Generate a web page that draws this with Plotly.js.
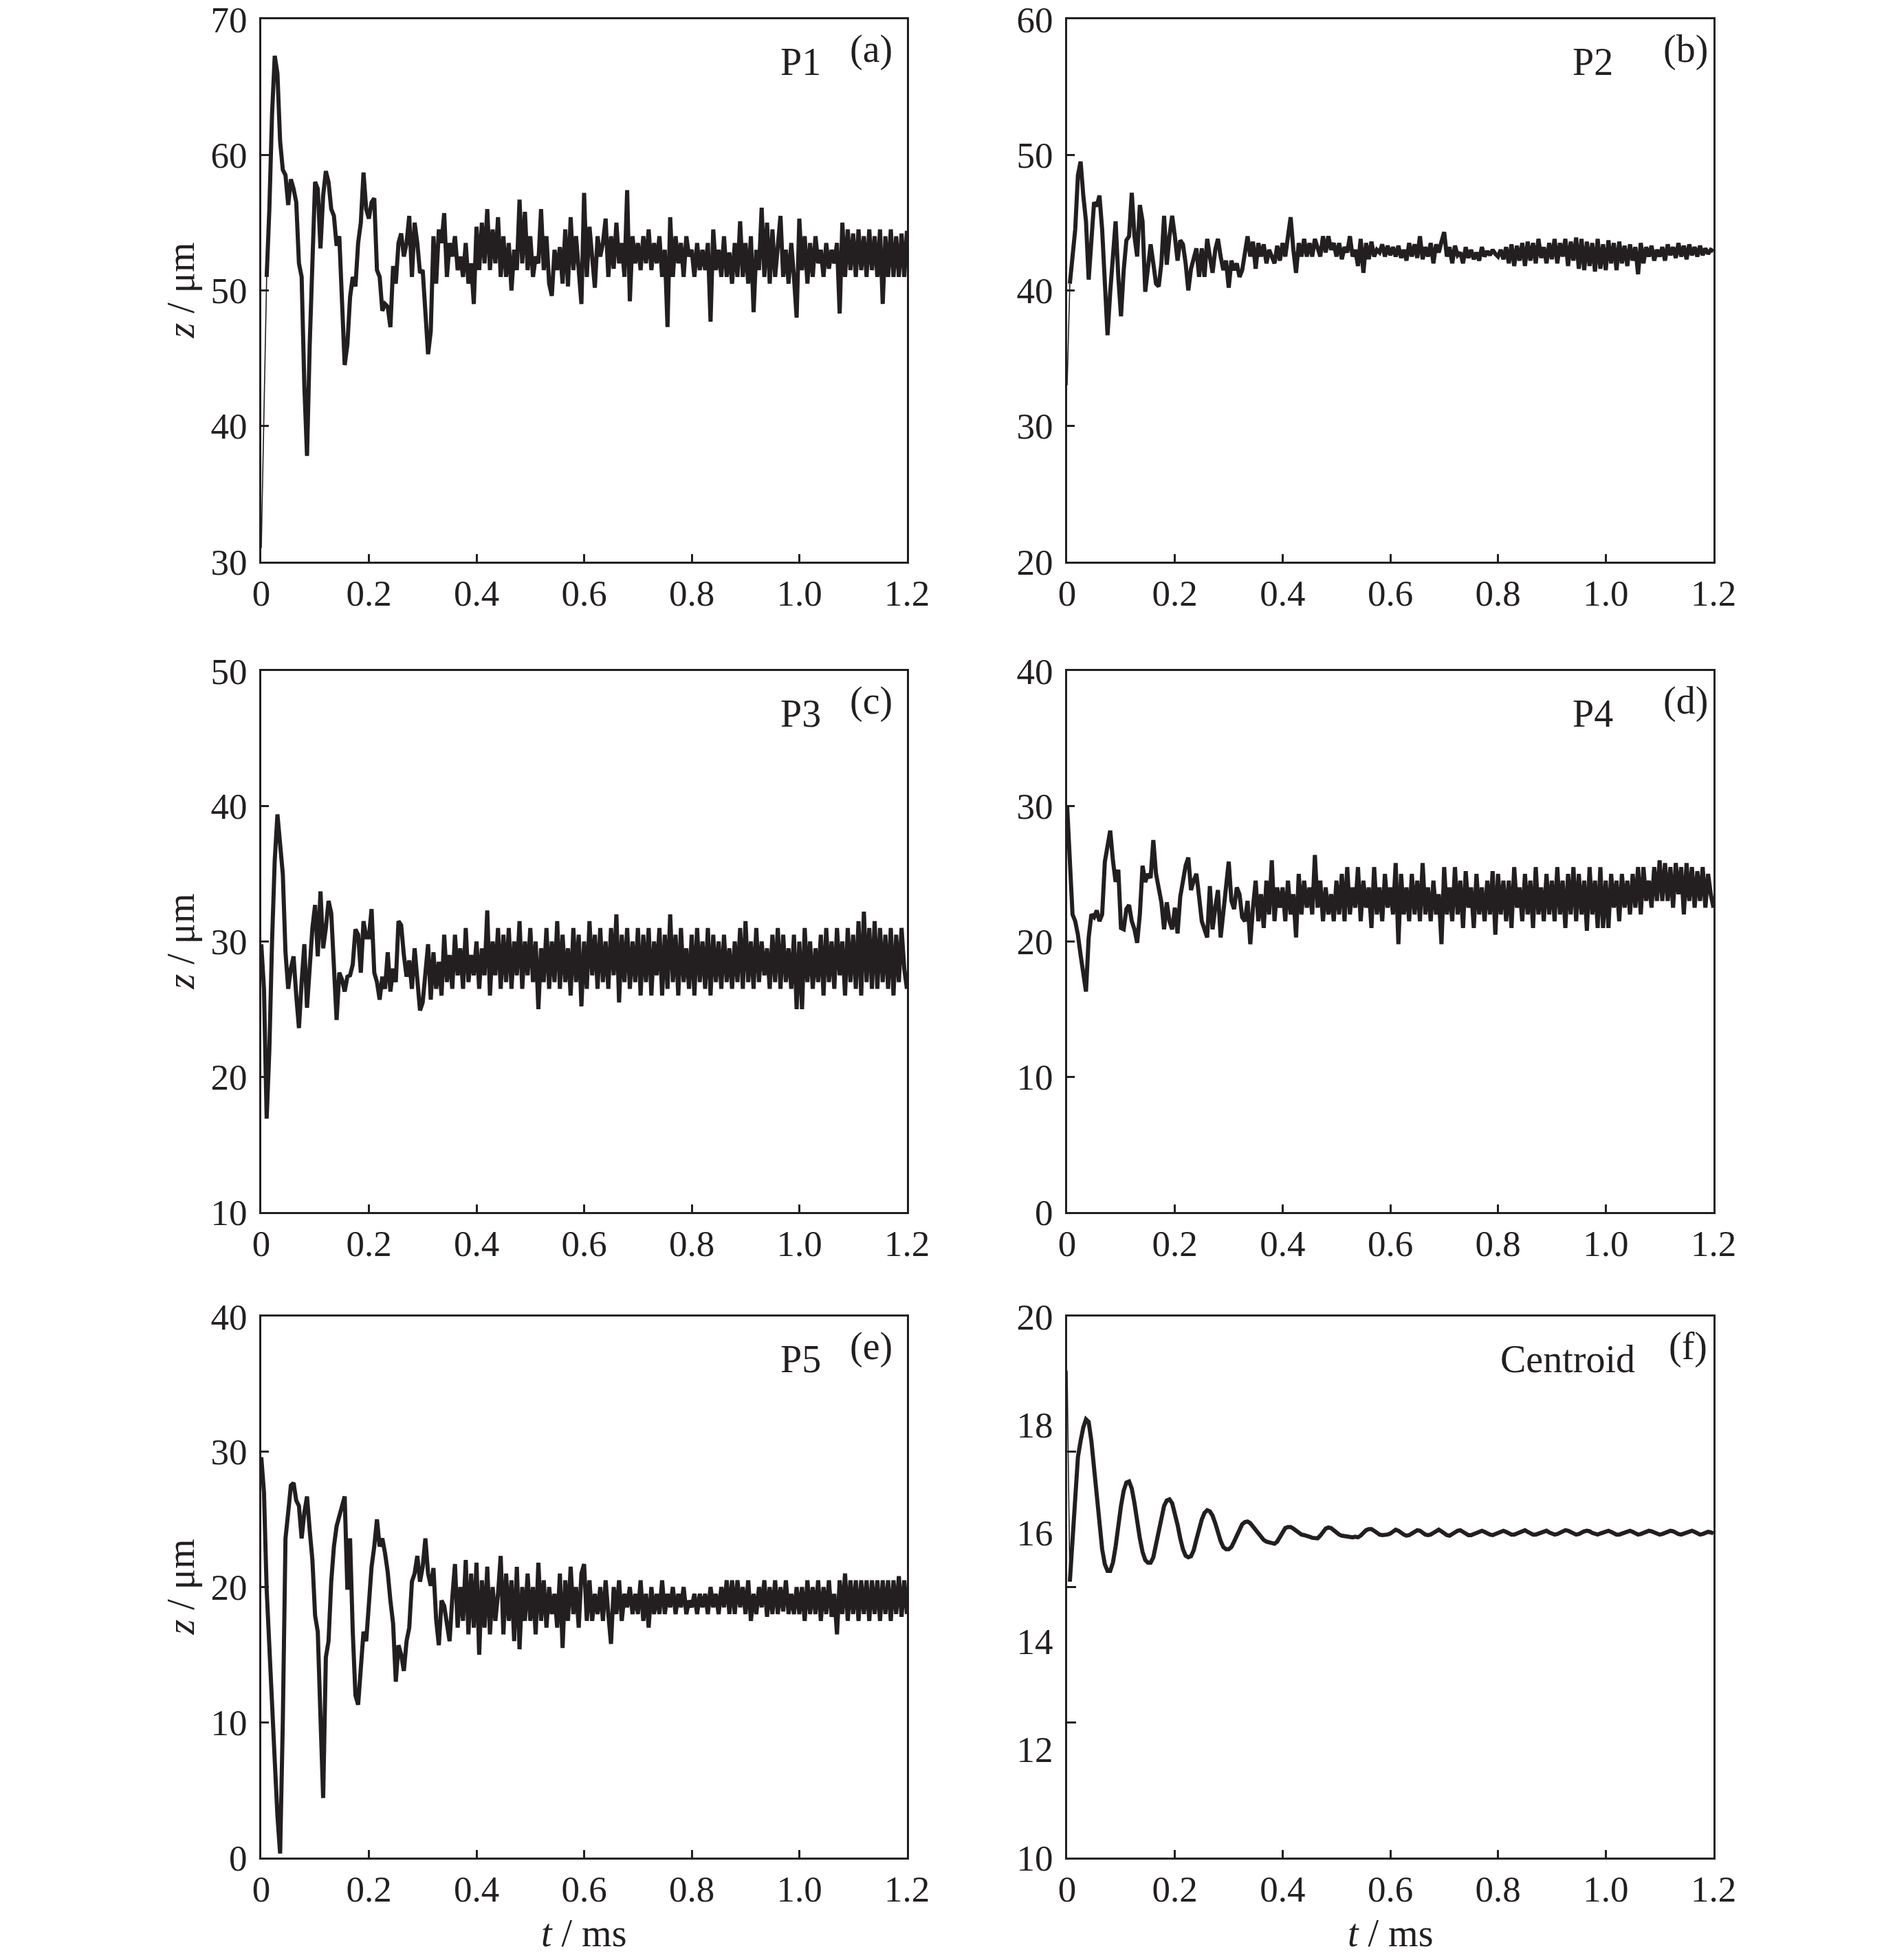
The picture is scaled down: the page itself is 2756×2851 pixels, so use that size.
<!DOCTYPE html>
<html>
<head>
<meta charset="utf-8">
<script src="https://cdn.plot.ly/plotly-3.0.1.min.js"></script>
<style>html,body{margin:0;padding:0;background:#fff;}</style>
</head>
<body>
<div id="chart" style="width:2756px;height:2851px;"></div>
<script>
// ---------------- data ----------------
const timeTickVals = [0, 0.2, 0.4, 0.6, 0.8, 1.0, 1.2];
const timeTickText = ['0', '0.2', '0.4', '0.6', '0.8', '1.0', '1.2'];
const sampleStart = 0;      // ms
const sampleStep = 0.005;   // ms

const zP1 = [
 31, 42, 51, 56, 63, 67.3, 66, 61, 58.9, 58.5,
 56.3, 58.2, 57.5, 56.5, 52, 51, 43, 37.8, 46, 53,
 58, 57.5, 53.1, 57, 58.8, 58, 56, 55.5, 53.3, 54,
 50, 44.5, 46, 49.5, 51, 50.3, 53.5, 55, 58.7, 56,
 55.3, 56.5, 56.8, 51.5, 51, 48.5, 49, 48.8, 47.3, 51.8,
 50.5, 53.5, 54.2, 52.5, 53.5, 55.5, 51, 55, 53.5, 51.3,
 51.5, 48.5, 45.3, 47, 54, 50.5, 54.5, 53.5, 55.7, 51,
 53.5, 52.5, 54, 51.5, 52.5, 51, 53.5, 50.5, 52, 49,
 54.7, 51.5, 55, 52, 56, 51.5, 54.5, 52, 55.4, 51,
 54, 51, 53.5, 50, 53, 51.5, 56.7, 52, 55.8, 51.5,
 54, 51, 52.5, 52, 56, 51.5, 54, 50.5, 49.6, 53,
 51.5, 53.2, 50.5, 54.5, 50.3, 55.4, 51.5, 54, 51, 49,
 57.2, 51, 54.7, 52, 50.2, 54, 52.5, 53.5, 55.3, 51,
 54, 51.6, 55, 52, 53.5, 51, 57.4, 49.2, 54, 52,
 53.5, 51.5, 54, 52, 54.5, 51.5, 53.5, 52, 54, 51,
 53, 47.3, 55.4, 51, 54, 52, 53.5, 51, 54, 52.5,
 53, 51, 53.5, 51.5, 53, 51.5, 53.5, 47.7, 54.5, 51.5,
 53, 51, 54, 51, 52.8, 50.5, 53.5, 51, 55.1, 51,
 53.5, 50.5, 54, 48.4, 53, 51.5, 56.1, 51, 55, 50.5,
 54.5, 51, 53.5, 55.5, 51, 53, 50.5, 53.5, 51, 48,
 55.3, 51.5, 54, 50.5, 53.5, 51, 54, 52, 53, 51,
 53.5, 51.6, 53, 52, 53.5, 48.3, 55, 51, 54.5, 51.5,
 54.2, 51, 54.5, 51.5, 54, 51, 54.5, 51.5, 54, 51,
 54.5, 49, 54, 51, 54.5, 51, 54, 51, 54.2, 51,
 54.4
];

const zP2 = [
 33, 40.5, 42.5, 44.5, 48.5, 49.5, 47, 45.1, 40.8, 44,
 46.5, 46.2, 47, 44.5, 41, 36.7, 39.9, 43, 45.1, 41,
 38.1, 41.5, 43.7, 44, 47.2, 44, 42.5, 46.3, 45.1, 39.9,
 41.6, 43.4, 42, 40.5, 40.3, 42, 45.5, 41.9, 44, 45.5,
 44, 42.2, 43.7, 43.4, 42, 40, 41.6, 42.5, 43.1, 41,
 43.1, 41, 43.8, 42.5, 41.3, 43, 43.8, 42.5, 41.5, 42.2,
 40.2, 42.2, 41.5, 42, 41, 41.5, 43, 44, 42.5, 43.6,
 41.6, 43.5, 42.5, 43.4, 42, 43, 42.5, 42, 43.3, 42.2,
 43.5, 42.5, 44, 45.4, 43, 41.3, 43.5, 42.5, 43.8, 42.5,
 43.5, 42.5, 43.8, 43, 42.5, 44, 42.8, 44, 43, 43.5,
 42.5, 43.5, 42.3, 43.2, 42.8, 44, 42.5, 43, 41.8, 43.8,
 41.3, 43.5, 42.3, 43.6, 42.5, 43, 42.8, 43.4, 42.5, 43.3,
 42.6, 43.2, 42.5, 43.3, 42.4, 43, 42.2, 43.5, 42.5, 43.4,
 42.4, 44, 42.3, 43.2, 42.5, 43.5, 42, 43.4, 42.8, 43.6,
 44.3, 42.5, 43.2, 42, 43.3, 42.6, 42.8, 42, 43.2, 42.4,
 43, 42.3, 42.8, 42.2, 43.2, 42.5, 42.9, 42.6, 43, 42.7,
 42.5, 43, 42.3, 43.2, 42, 43.4, 41.8, 43.3, 42.2, 43.5,
 41.8, 43.6, 42.2, 43.5, 42, 43.8, 42.4, 43.2, 42, 43.5,
 42.3, 43.8, 42, 43.5, 42.5, 43.8, 41.8, 43.6, 42.2, 43.9,
 41.6, 43.8, 41.5, 43.6, 41.8, 43.5, 41.4, 43.8, 41.6, 43.4,
 41.5, 43.7, 42, 43.5, 41.5, 43.6, 42, 43.3, 41.8, 43.4,
 42.2, 43.2, 41.2, 43.5, 42, 43.2, 42.5, 43.3, 42.2, 43,
 42.5, 43.2, 42.2, 43.4, 42.6, 43.2, 42.4, 43.5, 42.5, 43.3,
 42.3, 43.4, 42.6, 43.2, 42.5, 43.3, 42.6, 43.1, 42.7, 43,
 42.9
];

const zP3 = [
 29.8, 26.5, 16.9, 22, 30, 36, 39.4, 37, 35, 29.2,
 26.5, 28, 28.9, 26, 23.6, 27, 29.8, 25.1, 28.3, 31,
 32.7, 28.9, 33.7, 29.5, 31, 33, 32.1, 27.4, 24.2, 27.7,
 27.2, 26.3, 27.4, 27.5, 28.3, 30.9, 30.5, 27.7, 31.5, 30.3,
 30.3, 32.4, 27.7, 27, 25.7, 27.4, 26.5, 29.2, 26.3, 28,
 27, 31.5, 31.2, 29, 27.4, 28.6, 26.5, 29.5, 27, 24.9,
 25.5, 27.7, 29.8, 25.7, 29.2, 26.5, 28.5, 26, 30.5, 27,
 29, 26.5, 30.5, 27.5, 29.5, 26.5, 31, 27, 29, 27.5,
 30, 26.5, 29.5, 27.5, 32.3, 26, 30, 27.5, 31, 26.5,
 30.5, 27, 31, 26.5, 30, 27.5, 31.5, 26.5, 30, 27.5,
 31, 27, 30, 25, 29.5, 27, 31, 26.5, 30, 27,
 31.5, 26.5, 30.5, 27, 29.5, 26, 31, 27, 30.5, 25.2,
 30, 26.5, 31.5, 27.5, 30.5, 26.5, 31, 27, 30, 26.5,
 31, 27.5, 32, 25.5, 30.5, 27, 31, 26.5, 30, 27,
 31, 26, 30.5, 27, 31, 26, 30, 27.5, 31, 26,
 30.5, 26.5, 32, 27, 30.5, 26, 31, 27, 29.5, 26.5,
 30.5, 26, 31, 27, 30, 26.5, 31, 26, 30.5, 27,
 30, 26.5, 30.5, 27, 29.5, 26.5, 30, 27, 31, 26.5,
 31.5, 27, 30, 26.5, 31, 27, 30, 27.5, 29.5, 26.5,
 30.5, 27, 31, 26.5, 30.5, 27, 29.5, 26.5, 30.5, 25,
 30, 25, 31, 27, 30, 26.5, 29.5, 27, 30.5, 26,
 31, 27, 30, 26.5, 31, 27.5, 30, 26, 31, 27,
 30.5, 26.5, 31.5, 26, 32.2, 27, 31, 26.5, 31.5, 26.5,
 31, 27, 30.5, 26.5, 31, 26, 30.5, 27, 31, 28,
 26.5
];

const zP4 = [
 30, 25.5, 22, 21.5, 20.5, 19, 17.5, 16.3, 20.3, 22,
 21.8, 22.3, 21.5, 22, 25.9, 27, 28.2, 26, 24.4, 25.3,
 21, 20.9, 22.4, 22.7, 21.5, 20.9, 19.9, 22, 25.6, 24.4,
 25, 24.7, 27.5, 25, 23.8, 22.9, 20.9, 22.9, 21.5, 20.9,
 22.5, 20.6, 23.3, 24.5, 25.6, 26.2, 23.8, 24.5, 25, 23.3,
 21.5, 20.9, 20.3, 24.1, 20.9, 22.5, 23.8, 20.3, 22, 24,
 25.9, 23, 22.4, 24, 23.5, 21.8, 21.5, 23, 19.8, 22.5,
 24.5, 21.5, 23.5, 21, 24.5, 22, 26, 21.5, 24, 22.5,
 24, 21.5, 24.5, 22, 23.5, 20.3, 25, 22, 24.5, 22.5,
 24, 22, 26.4, 22.5, 24.5, 21.5, 24, 22, 23.5, 21.5,
 24.5, 22, 25, 21.5, 25.5, 22, 24, 22.5, 25.5, 21.5,
 24.5, 22.5, 24, 21, 25.5, 22, 24, 21.5, 25, 22.5,
 24, 22, 25.8, 19.8, 25, 22, 24, 21.5, 25, 22,
 24.5, 21.5, 25.8, 22, 24, 21.5, 24.5, 22, 23.5, 19.8,
 25.5, 22, 24, 21.5, 25.5, 22, 24.5, 21, 25.2, 22.5,
 24, 21, 25, 22, 24, 21.5, 24.5, 22, 25.2, 20.5,
 25, 22, 24.5, 21.5, 24.5, 21, 25.5, 22.5, 24, 21.5,
 25, 22, 24.5, 21, 25.5, 22, 24, 21.5, 25, 22,
 24.5, 21.5, 25.5, 22, 24.5, 21, 25, 22, 25.5, 21.5,
 25, 22, 24.5, 20.8, 25.5, 22, 24.5, 21, 25.5, 21,
 24.5, 21, 25, 22.5, 24.5, 21.5, 25, 22.5, 24.5, 22,
 25, 22.5, 25.5, 22, 25.5, 23, 24.5, 22.5, 25.5, 23,
 26, 23, 25.8, 23, 25.5, 22.5, 25.8, 23.5, 25.5, 22,
 25.8, 23, 25.5, 22.5, 25.2, 23, 25.5, 22.5, 25, 23.5,
 22.5
];

const zP5 = [
 29.6, 27, 19.8, 15.1, 11, 7.2, 3.1, 0.3, 10, 23.6,
 25.5, 27.5, 27.7, 26.4, 26, 23.6, 25.5, 26.7, 24.2, 22,
 17.9, 16.7, 10.4, 4.4, 14.8, 16, 20.4, 23, 24.5, 25.2,
 26, 26.7, 19.8, 23.6, 16.7, 12, 11.3, 14, 16.7, 16,
 19, 21.5, 23, 25, 23, 23.6, 22.5, 21.1, 19, 17.3,
 13, 15.7, 15, 13.8, 16, 17, 20.4, 21, 22.3, 20.4,
 21.5, 23.6, 21, 20.1, 21.4, 17.6, 15.7, 19, 18.6, 17,
 16, 19.2, 21.7, 17, 20, 17.5, 22, 16.5, 21, 17,
 21.8, 15, 20.5, 17, 21.5, 16.5, 20, 17.5, 19.5, 22.3,
 16.5, 21, 17.5, 20.5, 16, 21.5, 15.4, 20, 17.5, 21,
 17.5, 20, 16.5, 21.8, 17.5, 20.5, 17, 20, 18, 19.5,
 17, 21, 15.5, 20.5, 17.5, 21.5, 18, 20, 17, 21,
 21.7, 17.5, 20.5, 17.5, 19.5, 18, 20, 17.5, 20.5, 18,
 15.8, 20, 18, 20.5, 17.5, 19.5, 18.5, 20, 18, 19.5,
 18, 20.5, 17.5, 19.5, 17, 20, 18, 19.5, 18, 20.5,
 18, 19.5, 18.5, 20, 18, 19.5, 18.5, 20, 18, 19,
 18.5, 19.5, 18, 19.5, 18.5, 19.5, 18, 20, 18.5, 19.5,
 18, 20, 18.5, 20.5, 18, 20.5, 18, 20.5, 18.5, 20,
 18, 20.5, 17.5, 19.5, 18, 20, 18.5, 20.5, 17.8, 20,
 18, 20.5, 18, 20, 18.2, 20.5, 18, 19.5, 18, 20,
 18, 20, 17.5, 20.5, 18, 20, 18, 20.5, 17.5, 20,
 18, 20.5, 17.8, 19.5, 16.5, 20.5, 18, 21, 17.5, 20.5,
 18, 20.5, 17.5, 20.5, 18, 20.5, 17.5, 20.5, 18, 20.5,
 17.5, 20.5, 18, 20.5, 17.5, 20.5, 18, 20.8, 17.8, 20.5,
 18
];

const zCentroid = [
 19, 15.1, 15.9, 16.9, 17.4, 17.7, 17.95, 18.1, 18.05, 17.7,
 17.2, 16.6, 16.1, 15.7, 15.42, 15.3, 15.3, 15.45, 15.75, 16.15,
 16.5, 16.78, 16.93, 16.95, 16.82, 16.55, 16.2, 15.9, 15.65, 15.5,
 15.45, 15.45, 15.55, 15.78, 16.05, 16.3, 16.5, 16.6, 16.62, 16.55,
 16.38, 16.15, 15.9, 15.7, 15.58, 15.55, 15.57, 15.68, 15.88, 16.08,
 16.25, 16.37, 16.42, 16.4, 16.32, 16.18, 16.0, 15.85, 15.74, 15.7,
 15.7, 15.74, 15.84, 15.96, 16.08, 16.16, 16.2, 16.21, 16.18, 16.12,
 16.05, 15.98, 15.92, 15.87, 15.84, 15.82, 15.81, 15.8, 15.84, 15.93,
 16.03, 16.09, 16.11, 16.11, 16.08, 16.04, 16.0, 15.97, 15.96, 15.95,
 15.93, 15.91, 15.9, 15.9, 15.95, 16.03, 16.08, 16.1, 16.09, 16.05,
 16.0, 15.97, 15.95, 15.94, 15.93, 15.92, 15.92, 15.93, 15.92, 15.95,
 16.0, 16.05, 16.07, 16.07, 16.04, 16.0, 15.97, 15.96, 15.96, 15.97,
 15.99,
 16.03, 16.06, 16.04, 16.0, 15.97, 15.95, 15.96, 15.99,
 16.02, 16.05, 16.04, 16.0, 15.97, 15.96, 15.97, 16.0,
 16.04, 16.06, 16.03, 15.99, 15.96, 15.95, 15.97, 16.01,
 16.04, 16.05, 16.02, 15.98, 15.96, 15.96, 15.98, 16.01,
 16.03, 16.04, 16.02, 15.99, 15.97, 15.96, 15.98, 16.01,
 16.03, 16.04, 16.02, 15.99, 15.97, 15.97, 15.99, 16.02,
 16.04, 16.05, 16.02, 15.99, 15.97, 15.97, 15.99, 16.02,
 16.04, 16.04, 16.01, 15.98, 15.97, 15.98, 16.0, 16.03,
 16.05, 16.04, 16.01, 15.98, 15.97, 15.98, 16.01, 16.03,
 16.04, 16.03, 16.0, 15.98, 15.97, 15.99, 16.01, 16.03,
 16.04, 16.02, 15.99, 15.97, 15.97, 15.99, 16.02, 16.04,
 16.04, 16.02, 15.99, 15.97, 15.98, 16.0, 16.02, 16.04,
 16.03, 16.01, 15.98, 15.97, 15.98, 16.0, 16.03, 16.04,
 16.03, 16.0, 15.98, 15.97, 15.99, 16.01, 16.03, 16.04,
 16.02, 15.99, 15.97, 15.98, 16.0, 16.02, 16.01, 15.99
];

const panelNames = ['P1', 'P2', 'P3', 'P4', 'P5', 'Centroid'];
const panelTags = ['(a)', '(b)', '(c)', '(d)', '(e)', '(f)'];
const yRanges = [[30, 70], [20, 60], [10, 50], [0, 40], [0, 40], [10, 20]];
const yTickVals = [
  [30, 40, 50, 60, 70],
  [20, 30, 40, 50, 60],
  [10, 20, 30, 40, 50],
  [0, 10, 20, 30, 40],
  [0, 10, 20, 30, 40],
  [10, 12, 14, 16, 18, 20]
];
const centroidTickMarks = [12.5, 15, 17.5];
const yTitle = '<i>z</i> / μm';
const xTitle = '<i>t</i> / ms';

// ---------------- style / layout (pixels of the 2756 x 2851 page) ----------------
const W = 2756, H = 2851;
const INK = '#231f20';
const FONT = '"Liberation Serif", "Times New Roman", Times, serif';
const colPx = [[380, 1319], [1552, 2492]];
const rowPx = [[28, 817], [976, 1763], [1915, 2702]];
const nameDx = [-155, -176, -155, -176, -155, -212];
const tagDx = [-52, -41, -52, -41, -52, -37];
const nameDy = 62, tagDy = 43;
// number of leading samples drawn as a thin start stroke
const thinLead = [2, 1, 0, 0, 0, 1];

const px = x => x / W;
const py = y => 1 - y / H;

const series = [zP1, zP2, zP3, zP4, zP5, zCentroid];
const traces = [];
const layout = {
  width: W, height: H,
  margin: {l: 0, r: 0, t: 0, b: 0},
  paper_bgcolor: '#ffffff', plot_bgcolor: '#ffffff',
  showlegend: false,
  font: {family: FONT, color: INK, size: 53},
  annotations: []
};

series.forEach((z, k) => {
  const n = k + 1;
  const sfx = n === 1 ? '' : String(n);
  const col = k % 2, row = Math.floor(k / 2);
  const [x0, x1] = colPx[col];
  const [yt, yb] = rowPx[row];
  const lead = thinLead[k];

  if (lead > 0) {
    traces.push({
      type: 'scatter', mode: 'lines',
      x0: sampleStart, dx: sampleStep, y: z.slice(0, lead + 1),
      xaxis: 'x' + sfx, yaxis: 'y' + sfx,
      line: {color: INK, width: 1.6},
      hoverinfo: 'skip'
    });
  }
  traces.push({
    type: 'scatter', mode: 'lines',
    x0: sampleStart + lead * sampleStep, dx: sampleStep, y: z.slice(lead),
    xaxis: 'x' + sfx, yaxis: 'y' + sfx,
    line: {color: INK, width: 6},
    hoverinfo: 'skip'
  });

  const axisCommon = {
    showline: true, mirror: true, linecolor: INK, linewidth: 3,
    ticks: 'inside', ticklen: 11, tickwidth: 3, tickcolor: INK,
    showgrid: false, zeroline: false, fixedrange: true,
    tickfont: {family: FONT, size: 53, color: INK},
    ticklabeloverflow: 'allow',
    automargin: false
  };

  layout['xaxis' + sfx] = Object.assign({}, axisCommon, {
    domain: [px(x0), px(x1)],
    anchor: 'y' + sfx,
    range: [0, 1.2],
    tickmode: 'array', tickvals: timeTickVals, ticktext: timeTickText,
    ticklabelstandoff: -3
  });

  const ya = Object.assign({}, axisCommon, {
    domain: [py(yb), py(yt)],
    anchor: 'x' + sfx,
    range: yRanges[k],
    tickmode: 'array', tickvals: yTickVals[k],
    ticktext: yTickVals[k].map(String),
    ticklabelstandoff: 7
  });
  if (k === 5) {
    ya.ticks = '';
    ya.minor = {tickmode: 'array', tickvals: centroidTickMarks, ticks: 'inside',
                ticklen: 13, tickwidth: 3, tickcolor: INK, showgrid: false};
  }
  layout['yaxis' + sfx] = ya;

  // panel name and tag
  layout.annotations.push({
    xref: 'paper', yref: 'paper', x: px(x1 + nameDx[k]), y: py(yt + nameDy),
    xanchor: 'center', yanchor: 'middle', showarrow: false,
    text: panelNames[k], font: {family: FONT, size: 56, color: INK}
  });
  layout.annotations.push({
    xref: 'paper', yref: 'paper', x: px(x1 + tagDx[k]), y: py(yt + tagDy),
    xanchor: 'center', yanchor: 'middle', showarrow: false,
    text: panelTags[k], font: {family: FONT, size: 56, color: INK}
  });

  // axis titles
  if (col === 0) {
    layout.annotations.push({
      xref: 'paper', yref: 'paper', x: px(262), y: py((yt + yb) / 2),
      xanchor: 'center', yanchor: 'middle', showarrow: false, textangle: -90,
      text: yTitle, font: {family: FONT, size: 56, color: INK}
    });
  }
  if (row === 2) {
    layout.annotations.push({
      xref: 'paper', yref: 'paper', x: px((x0 + x1) / 2), y: py(2812),
      xanchor: 'center', yanchor: 'middle', showarrow: false, borderpad: 0,
      text: xTitle, font: {family: FONT, size: 56, color: INK}
    });
  }
});

Plotly.newPlot('chart', traces, layout, {staticPlot: true, displayModeBar: false});
</script>
</body>
</html>
